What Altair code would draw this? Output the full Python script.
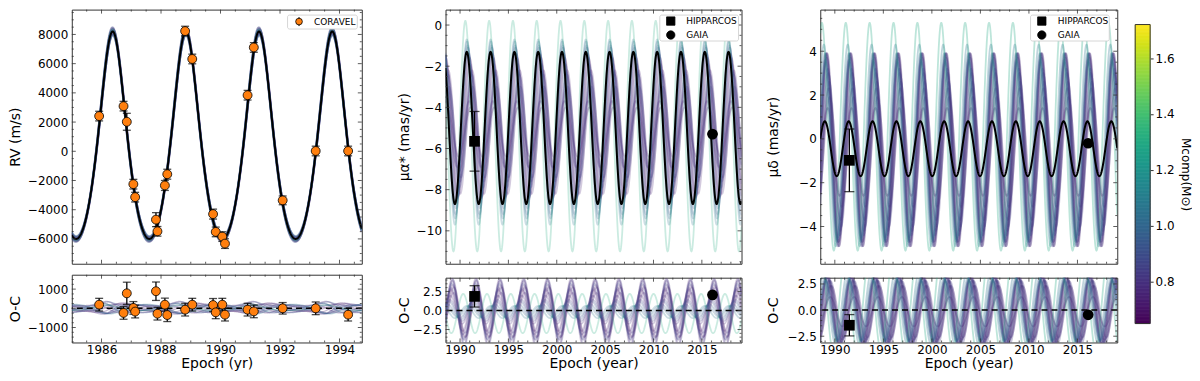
import numpy as np
import pandas as pd
import altair as alt

# ------------------------------------------------------------------
# Values
# ------------------------------------------------------------------
PERIOD = 2.46                      # yr, orbital period
RV_K, RV_E, RV_TP, RV_GAMMA = 7100.0, 0.16, 1988.835, -36.0   # best-fit RV orbit

# CORAVEL radial velocities
rv_year = [1985.92, 1986.74, 1986.85, 1987.07, 1987.13, 1987.83, 1987.88, 1988.13,
           1988.21, 1988.81, 1989.05, 1989.75, 1989.84, 1990.06, 1990.15, 1990.91,
           1991.12, 1992.09, 1993.20, 1994.29]
rv_val = [2410, 3090, 2020, -2250, -3140, -4680, -5480, -2340, -1570, 8230, 6320,
          -4300, -5520, -5840, -6320, 3840, 7110, -3360, 20, 20]
rv_err = [330, 330, 580, 330, 330, 480, 330, 340, 340, 330, 330, 340, 330, 330,
          330, 330, 330, 300, 330, 330]
rv_oc = [190, -240, 780, 20, -170, 890, -280, 190, -350, -70, 190, 170, -210, 190,
         -330, -70, -160, 0, 0, -330]

# best-fit proper-motion curves (amplitude, mean, epoch of maximum)
PMRA_BEST = (3.7, -5.0, 1990.70)
PMDEC_BEST = (1.25, -0.45, 1988.97)

# sampled orbit models (companion mass and their deviations)
model_mass = [0.70, 0.72, 0.73, 0.75, 0.76, 0.78, 0.79, 0.81, 0.83, 0.85, 0.88, 0.92,
              0.96, 1.00, 1.06, 1.30]
model_rv_dK = [150, -120, 80, -200, 220, -60, 100, -150, 40, 180, -90, 250, -180, 60,
               -240, 120]
model_rv_dt = [0.006, -0.008, 0.012, 0.004, -0.010, 0.014, -0.005, 0.009, -0.013,
               0.002, 0.010, -0.006, 0.007, -0.011, 0.003, -0.004]
model_pmra_amp = [1.2, 3.4, 2.0, 3.0, 1.6, 3.5, 2.6, 3.2, 2.2, 3.6, 2.8, 3.9, 4.1, 4.3,
                  4.5, 5.6]
model_pmra_mean = [-5.2, -5.0, -5.1, -5.2, -5.3, -4.9, -5.0, -5.1, -5.2, -5.0, -5.1,
                   -5.0, -5.1, -5.1, -5.2, -5.4]
model_pmra_shift = [0.40, 0.30, 0.45, 0.55, 0.25, 0.20, 0.50, 0.35, 0.60, 0.15, 0.45,
                    0.12, 0.08, 0.04, 0.00, -0.15]
model_pmdec_amp = [2.0, 4.2, 3.0, 4.4, 2.5, 4.3, 3.6, 4.4, 3.3, 4.4, 3.8, 4.0, 4.1, 4.3,
                   4.6, 5.2]
model_pmdec_mean = [-0.6, -0.5, -0.7, -0.5, -0.6, -0.4, -0.6, -0.5, -0.7, -0.5, -0.6,
                    -0.5, -0.5, -0.4, -0.3, 0.1]
model_pmdec_shift = [0.30, 0.20, 0.40, 0.25, 0.50, 0.15, 0.35, 0.20, 0.45, 0.10, 0.30,
                     0.10, 0.05, 0.00, -0.10, -0.30]

# Hipparcos / Gaia proper motions
pm_year = [1991.5, 2016.1]
pm_label = ["HIPPARCOS", "GAIA"]
pmra_obs = [-5.65, -5.3]
pmra_err = [1.45, 0.0]
pmra_oc = [1.85, 2.05]
pmra_oc_err = [1.4, 0.0]
pmdec_obs = [-0.98, -0.2]
pmdec_err = [1.43, 0.0]
pmdec_oc = [-1.45, -0.45]
pmdec_oc_err = [1.02, 0.0]

# colour bar
MASS_DOMAIN = [0.65, 1.72]
cbar_ticks = [0.8, 1.0, 1.2, 1.4, 1.6]

# ------------------------------------------------------------------
FRAME = "#333333"
ORANGE = "#ff7f0e"
FONT = "DejaVu Sans"
cscale = alt.Scale(scheme="viridis", domain=MASS_DOMAIN)


def kepler_rv(t, K, tp, e, gamma, P):
    t = np.asarray(t, float)
    M = 2 * np.pi * (t - tp) / P
    E = M.copy()
    for _ in range(40):
        E = E - (E - e * np.sin(E) - M) / (1 - e * np.cos(E))
    nu = 2 * np.arctan2(np.sqrt(1 + e) * np.sin(E / 2), np.sqrt(1 - e) * np.cos(E / 2))
    return gamma + K * (np.cos(nu) + e)


def pm_curve(t, amp, mean, tpk, P):
    return mean + amp * np.cos(2 * np.pi * (np.asarray(t, float) - tpk) / P)


def lin(dom):
    return alt.Scale(domain=dom, nice=False, zero=False)


class Ax:
    """scales + axes of one panel, shared by all of its layers"""

    def __init__(self, xdom, ydom, xaxis, yaxis):
        self.xdom, self.ydom = xdom, ydom
        self.xs, self.ys = lin(xdom), lin(ydom)
        self.xa = xaxis
        self.ya = yaxis

    def X(self, f="t"):
        return alt.X(f"{f}:Q", scale=self.xs, axis=self.xa)

    def Y(self, f="y"):
        return alt.Y(f"{f}:Q", scale=self.ys, axis=self.ya)


def frame_ticks(A, xmaj, xmin, ymaj, ymin, w, h):
    out = []
    for vals, L in ((xmaj, 4), (xmin, 2)):
        v = [a for a in vals if A.xdom[0] < a < A.xdom[1]]
        b = alt.Chart(pd.DataFrame({"t": v})).mark_rule(color=FRAME, strokeWidth=0.8)
        out.append(b.encode(x=A.X(), y=alt.value(h), y2=alt.value(h - L)))
        out.append(b.encode(x=A.X(), y=alt.value(0), y2=alt.value(L)))
    for vals, L in ((ymaj, 4), (ymin, 2)):
        v = [a for a in vals if A.ydom[0] < a < A.ydom[1]]
        b = alt.Chart(pd.DataFrame({"y": v})).mark_rule(color=FRAME, strokeWidth=0.8)
        out.append(b.encode(y=A.Y(), x=alt.value(0), x2=alt.value(L)))
        out.append(b.encode(y=A.Y(), x=alt.value(w), x2=alt.value(w - L)))
    return out


def minor(lo, hi, step, majors):
    vals = np.round(np.arange(lo, hi + 1e-9, step), 4)
    return [float(v) for v in vals if not np.any(np.isclose(v, majors))]


ONE = pd.DataFrame({"k": [0]})


def legend_box(x0, x1, y0, y1):
    return alt.Chart(ONE).mark_rect(fill="white", stroke="#cccccc", strokeWidth=0.8,
                                    cornerRadius=2).encode(
        x=alt.value(x0), x2=alt.value(x1), y=alt.value(y0), y2=alt.value(y1))


def legend_text(x, y, txt):
    return alt.Chart(ONE).mark_text(align="left", baseline="middle", fontSize=9,
                                    font=FONT, color="black").encode(
        x=alt.value(x), y=alt.value(y), text=alt.value(txt))


def legend_marker(x, y, shape, size, fill, stroke):
    return alt.Chart(ONE).mark_point(shape=shape, filled=True, size=size, fill=fill,
                                     stroke=stroke, strokeWidth=0.8, opacity=1).encode(
        x=alt.value(x), y=alt.value(y))


def curves_frame(t, best, models):
    rows_top, rows_bot = [], []
    for i, c in enumerate(models):
        rows_top.append(pd.DataFrame({"t": t, "y": np.round(c, 3), "model": i,
                                      "mass": model_mass[i]}))
        rows_bot.append(pd.DataFrame({"t": t, "y": np.round(c - best, 3), "model": i,
                                      "mass": model_mass[i]}))
    return pd.concat(rows_top), pd.concat(rows_bot)


def error_layers(df, A, cap):
    d = df.copy()
    d["lo"] = d["y"] - d["err"]
    d["hi"] = d["y"] + d["err"]
    base = alt.Chart(d)
    return [
        base.mark_rule(color="black", strokeWidth=1.3).encode(
            x=A.X(), y=A.Y("lo"), y2="hi:Q"),
        base.mark_tick(color="black", orient="horizontal", size=cap, thickness=1.3).encode(
            x=A.X(), y=A.Y("lo")),
        base.mark_tick(color="black", orient="horizontal", size=cap, thickness=1.3).encode(
            x=A.X(), y=A.Y("hi")),
    ]


def yaxis(title, values, fmt, extent, tpad):
    return alt.Axis(title=title, values=values, format=fmt, ticks=False, domain=False,
                    grid=False, labelPadding=4, minExtent=extent, maxExtent=extent,
                    titlePadding=tpad)


def xaxis(title, values):
    return alt.Axis(title=title, values=values, format="d", ticks=False, domain=False,
                    grid=False, labelPadding=2, titlePadding=1)


def zero_line(A):
    return alt.Chart(pd.DataFrame({"y": [0]})).mark_rule(
        color="black", strokeWidth=1.5, strokeDash=[6, 4]).encode(y=A.Y())


# ------------------------------------------------------------------
# Left column : radial velocity
# ------------------------------------------------------------------
W1, H_TOP, H1B = 291, 255, 68
XD1 = [1985.0, 1994.75]
x_maj1 = [1986, 1988, 1990, 1992, 1994]
y_maj1 = [-6000, -4000, -2000, 0, 2000, 4000, 6000, 8000]
y_maj1b = [-1000, 0, 1000]

A1 = Ax(XD1, [-7700, 9700], None, yaxis("RV (m/s)", y_maj1, "d", 47, 2))
A1b = Ax(XD1, [-1780, 1750], xaxis("Epoch (yr)", x_maj1),
         yaxis("O-C", y_maj1b, "d", 47, 2))

t_rv = np.round(np.arange(XD1[0], XD1[1] + 1e-9, 0.01), 3)
rv_best = kepler_rv(t_rv, RV_K, RV_TP, RV_E, RV_GAMMA, PERIOD)
rv_models = [kepler_rv(t_rv, RV_K + model_rv_dK[i], RV_TP + model_rv_dt[i], RV_E,
                       RV_GAMMA, PERIOD) for i in range(len(model_mass))]
rv_top, rv_bot = curves_frame(t_rv, rv_best, rv_models)
rv_best_df = pd.DataFrame({"t": t_rv, "y": np.round(rv_best, 1)})

rv_pts = pd.DataFrame({"t": rv_year, "y": rv_val, "err": rv_err})
rv_oc_pts = pd.DataFrame({"t": rv_year, "y": rv_oc, "err": rv_err})
color_enc = alt.Color("mass:Q", scale=cscale, legend=None)

left_top = alt.layer(
    alt.Chart(rv_top).mark_line(clip=True, strokeWidth=2, opacity=0.3).encode(
        x=A1.X(), y=A1.Y(), color=color_enc, detail="model:N"),
    alt.Chart(rv_best_df).mark_line(clip=True, color="black", strokeWidth=2).encode(
        x=A1.X(), y=A1.Y()),
    *error_layers(rv_pts, A1, 8),
    alt.Chart(rv_pts).mark_circle(size=80, fill=ORANGE, stroke="black", strokeWidth=0.8,
                                  opacity=1).encode(x=A1.X(), y=A1.Y()),
    *frame_ticks(A1, x_maj1, minor(1985, 1994.5, 0.5, x_maj1),
                 y_maj1, minor(-7500, 9500, 500, y_maj1), W1, H_TOP),
    legend_box(216.5, 286.5, 5.5, 19.5),
    alt.Chart(ONE).mark_rule(color="black", strokeWidth=1).encode(
        x=alt.value(228), y=alt.value(7.5), y2=alt.value(16.5)),
    legend_marker(228, 12, "circle", 45, ORANGE, "black"),
    legend_text(243, 12.5, "CORAVEL"),
).properties(width=W1, height=H_TOP)

left_bot = alt.layer(
    alt.Chart(rv_bot).mark_line(clip=True, strokeWidth=1.3, opacity=0.3).encode(
        x=A1b.X(), y=A1b.Y(), color=color_enc, detail="model:N"),
    zero_line(A1b),
    *error_layers(rv_oc_pts, A1b, 8),
    alt.Chart(rv_oc_pts).mark_circle(size=80, fill=ORANGE, stroke="black",
                                     strokeWidth=0.8, opacity=1).encode(
        x=A1b.X(), y=A1b.Y()),
    *frame_ticks(A1b, x_maj1, minor(1985, 1994.5, 0.5, x_maj1),
                 y_maj1b, minor(-1750, 1750, 250, y_maj1b), W1, H1B),
).properties(width=W1, height=H1B)

left = alt.vconcat(left_top, left_bot, spacing=9)

# ------------------------------------------------------------------
# Proper-motion columns
# ------------------------------------------------------------------
XD2 = [1988.5, 2019.1]
t_pm = np.round(np.arange(XD2[0], XD2[1] + 1e-9, 0.02), 3)
x_maj2 = [1990, 1995, 2000, 2005, 2010, 2015]
x_min2 = minor(1989, 2019, 1, x_maj2)


def pm_column(best_par, amps, means, shifts, obs, err, oc, oc_err, W, HB, YD, YDB,
              y_maj, y_majb, ylab, extent, tpad, leg, op):
    A = Ax(XD2, YD, None, yaxis(ylab, y_maj, "d", extent, tpad))
    B = Ax(XD2, YDB, xaxis("Epoch (year)", x_maj2),
           yaxis("O-C", y_majb, ".1f", extent, tpad))
    amp0, mean0, tpk0 = best_par
    best = pm_curve(t_pm, amp0, mean0, tpk0, PERIOD)
    models = [pm_curve(t_pm, amps[i], means[i], tpk0 + shifts[i], PERIOD)
              for i in range(len(model_mass))]
    top_df, bot_df = curves_frame(t_pm, best, models)
    best_df = pd.DataFrame({"t": t_pm, "y": np.round(best, 3)})
    pts = pd.DataFrame({"t": pm_year, "y": obs, "err": err, "src": pm_label})
    ocp = pd.DataFrame({"t": pm_year, "y": oc, "err": oc_err, "src": pm_label})

    def markers(df, P):
        return [
            alt.Chart(df[df.src == "HIPPARCOS"]).mark_point(
                shape="square", filled=True, size=115, color="black", opacity=1).encode(
                x=P.X(), y=P.Y()),
            alt.Chart(df[df.src == "GAIA"]).mark_point(
                shape="circle", filled=True, size=115, color="black", opacity=1).encode(
                x=P.X(), y=P.Y()),
        ]

    lx0, lx1, mx, tx = leg
    top = alt.layer(
        alt.Chart(top_df).mark_line(clip=True, strokeWidth=1.8, opacity=op).encode(
            x=A.X(), y=A.Y(), color=color_enc, detail="model:N"),
        alt.Chart(best_df).mark_line(clip=True, color="black", strokeWidth=2).encode(
            x=A.X(), y=A.Y()),
        *error_layers(pts, A, 10),
        *markers(pts, A),
        *frame_ticks(A, x_maj2, x_min2, y_maj,
                     minor(np.floor(YD[0]), np.ceil(YD[1]), 0.5, y_maj), W, H_TOP),
        legend_box(lx0, lx1, 5.5, 31.5),
        legend_marker(mx, 11.5, "square", 70, "black", "black"),
        legend_marker(mx, 25.5, "circle", 70, "black", "black"),
        legend_text(tx, 11.5, "HIPPARCOS"),
        legend_text(tx, 25.5, "GAIA"),
    ).properties(width=W, height=H_TOP)

    bot = alt.layer(
        alt.Chart(bot_df).mark_line(clip=True, strokeWidth=1.8, opacity=op).encode(
            x=B.X(), y=B.Y(), color=color_enc, detail="model:N"),
        zero_line(B),
        *error_layers(ocp, B, 10),
        *markers(ocp, B),
        *frame_ticks(B, x_maj2, x_min2, y_majb,
                     minor(-4.5, 4.5, 0.5, y_majb), W, HB),
    ).properties(width=W, height=HB)
    return alt.vconcat(top, bot, spacing=12)


middle = pm_column(PMRA_BEST, model_pmra_amp, model_pmra_mean, model_pmra_shift,
                   pmra_obs, pmra_err, pmra_oc, pmra_oc_err, 297, 65,
                   [-11.6, 0.75], [-4.2, 4.3], [-10, -8, -6, -4, -2, 0],
                   [-2.5, 0.0, 2.5], "μα* (mas/yr)", 33, 1,
                   (215, 294, 226, 241.5), 0.24)

right = pm_column(PMDEC_BEST, model_pmdec_amp, model_pmdec_mean, model_pmdec_shift,
                  pmdec_obs, pmdec_err, pmdec_oc, pmdec_oc_err, 298, 65,
                  [-5.7, 5.9], [-3.1, 3.1], [-4, -2, 0, 2, 4],
                  [-2.5, 0.0, 2.5], "μδ (mas/yr)", 36, 4,
                  (211, 290, 222.3, 238.3), 0.3)

# ------------------------------------------------------------------
# Colour bar
# ------------------------------------------------------------------
cb_lo = np.round(np.arange(MASS_DOMAIN[0], MASS_DOMAIN[1], 0.005), 4)
cb_df = pd.DataFrame({"lo": cb_lo, "hi": np.round(np.minimum(cb_lo + 0.006, MASS_DOMAIN[1]), 4),
                      "mass": np.round(cb_lo + 0.0025, 4)})
cb_scale = alt.Scale(domain=MASS_DOMAIN, range=[315, 15], nice=False, zero=False)
cb_axis = alt.Axis(orient="right", values=cbar_ticks, format=".1f", tickSize=3,
                   tickColor=FRAME, domain=False, grid=False, title="Mcomp(M⊙)",
                   labelPadding=2, titlePadding=4, titleFontSize=12)
colorbar = alt.layer(
    alt.Chart(cb_df).mark_rect(strokeWidth=0.6).encode(
        x=alt.value(0), x2=alt.value(15),
        y=alt.Y("lo:Q", scale=cb_scale, axis=cb_axis),
        y2="hi:Q",
        color=color_enc,
        stroke=alt.Stroke("mass:Q", scale=cscale, legend=None)),
    alt.Chart(pd.DataFrame({"lo": [MASS_DOMAIN[0]], "hi": [MASS_DOMAIN[1]]})).mark_rect(
        fill=None, stroke=FRAME, strokeWidth=1).encode(
        x=alt.value(0), x2=alt.value(15),
        y=alt.Y("lo:Q", scale=cb_scale, axis=cb_axis), y2="hi:Q"),
).properties(width=15, height=315, view=alt.ViewBackground(stroke=None))

chart = alt.hconcat(
    left,
    alt.hconcat(middle, alt.hconcat(right, colorbar, spacing=15), spacing=22),
    spacing=33,
).properties(
    padding={"left": 0, "top": 0, "right": 0, "bottom": 0}
).configure_axis(
    labelFont=FONT, titleFont=FONT, labelFontSize=12, titleFontSize=14,
    labelColor="black", titleColor="black", titleFontWeight="normal",
).configure_view(stroke=FRAME, strokeWidth=1)

chart.save("out.html", embed_options={"renderer": "svg", "actions": False})
